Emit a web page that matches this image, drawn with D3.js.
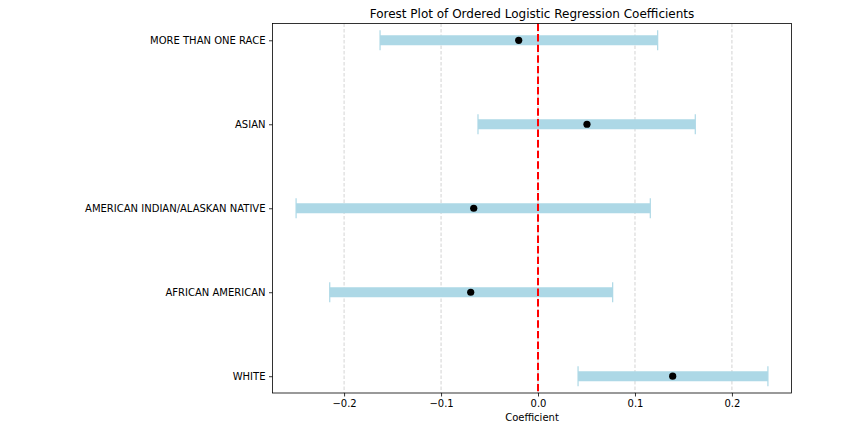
<!DOCTYPE html>
<html><head><meta charset="utf-8">
<script src="https://cdn.jsdelivr.net/npm/d3@7"></script>
<style>body{margin:0;background:#fff;} svg{display:block;} text{font-family:"DejaVu Sans",sans-serif;}</style>
</head><body>
<svg id="chart" width="847" height="431"></svg>
<script>
const categories = ["WHITE", "AFRICAN AMERICAN", "AMERICAN INDIAN/ALASKAN NATIVE", "ASIAN", "MORE THAN ONE RACE"];
const coef = [0.1389, -0.0694, -0.0663, 0.0505, -0.0199];
const ciLow = [0.0413, -0.2148, -0.2495, -0.0619, -0.1629];
const ciHigh = [0.2371, 0.0770, 0.1158, 0.1622, 0.1234];
const xTicks = [-0.2, -0.1, 0.0, 0.1, 0.2];
const titleText = "Forest Plot of Ordered Logistic Regression Coefficients";
const xLabel = "Coefficient";

const svg = d3.select("#chart");
const L = 272.5, R = 791.5, T = 23.5, B = 393;

const lo = d3.min(ciLow), hi = d3.max(ciHigh), pad = (hi - lo) * 0.05;
const x = d3.scaleLinear().domain([lo - pad, hi + pad]).range([L, R]);
const n = categories.length;
const y = d3.scaleLinear().domain([-0.2, n - 1 + 0.2]).range([B, T]);

// grid
svg.append("g").selectAll("line").data(xTicks).join("line")
  .attr("x1", d => x(d)).attr("x2", d => x(d)).attr("y1", T).attr("y2", B)
  .attr("stroke", "#b0b0b0").attr("stroke-opacity", 0.7).attr("stroke-width", 0.8)
  .attr("stroke-dasharray", "3.5,2");

const data = categories.map((c, i) => ({c, i, v: coef[i], l: ciLow[i], h: ciHigh[i]}));

// error bars
const eb = svg.append("g");
eb.selectAll("line.bar").data(data).join("line").attr("class", "bar")
  .attr("x1", d => x(d.l)).attr("x2", d => x(d.h)).attr("y1", d => y(d.i)).attr("y2", d => y(d.i))
  .attr("stroke", "#add8e6").attr("stroke-width", 10);
["l", "h"].forEach(k => {
  eb.selectAll("line.cap" + k).data(data).join("line").attr("class", "cap" + k)
    .attr("x1", d => x(d[k])).attr("x2", d => x(d[k]))
    .attr("y1", d => y(d.i) - 10).attr("y2", d => y(d.i) + 10)
    .attr("stroke", "#add8e6").attr("stroke-width", 1.2);
});

// zero line
svg.append("line").attr("x1", x(0)).attr("x2", x(0)).attr("y1", T).attr("y2", B)
  .attr("stroke", "#ff0000").attr("stroke-width", 2).attr("stroke-dasharray", "7.4,3.2");

// points
svg.append("g").selectAll("circle").data(data).join("circle")
  .attr("cx", d => x(d.v)).attr("cy", d => y(d.i)).attr("r", 3.6).attr("fill", "#000");

// axes
const xAxis = d3.axisBottom(x).tickValues(xTicks).tickSize(3.5).tickPadding(3.5)
  .tickFormat(d => d3.format(".1f")(d).replace("-", "\u2212"));
const gx = svg.append("g").attr("transform", `translate(0,${B})`).call(xAxis);
const yAxis = d3.axisLeft(y).tickValues(d3.range(n)).tickSize(3.5).tickPadding(3.5)
  .tickFormat(i => categories[i]);
const gy = svg.append("g").attr("transform", `translate(${L},0)`).call(yAxis);
[gx, gy].forEach(g => {
  g.select(".domain").remove();
  g.selectAll("line").attr("stroke", "#000").attr("stroke-width", 0.8);
  g.selectAll("text").attr("font-size", 10).attr("fill", "#000").style("font-family", "DejaVu Sans");
});

// frame
svg.append("rect").attr("x", L).attr("y", T).attr("width", R - L).attr("height", B - T)
  .attr("fill", "none").attr("stroke", "#000").attr("stroke-width", 0.8);

svg.append("text").attr("x", (L + R) / 2).attr("y", 18).attr("text-anchor", "middle")
  .attr("font-size", 12).text(titleText);
svg.append("text").attr("x", (L + R) / 2).attr("y", 421).attr("text-anchor", "middle")
  .attr("font-size", 10).text(xLabel);
</script>
</body></html>
